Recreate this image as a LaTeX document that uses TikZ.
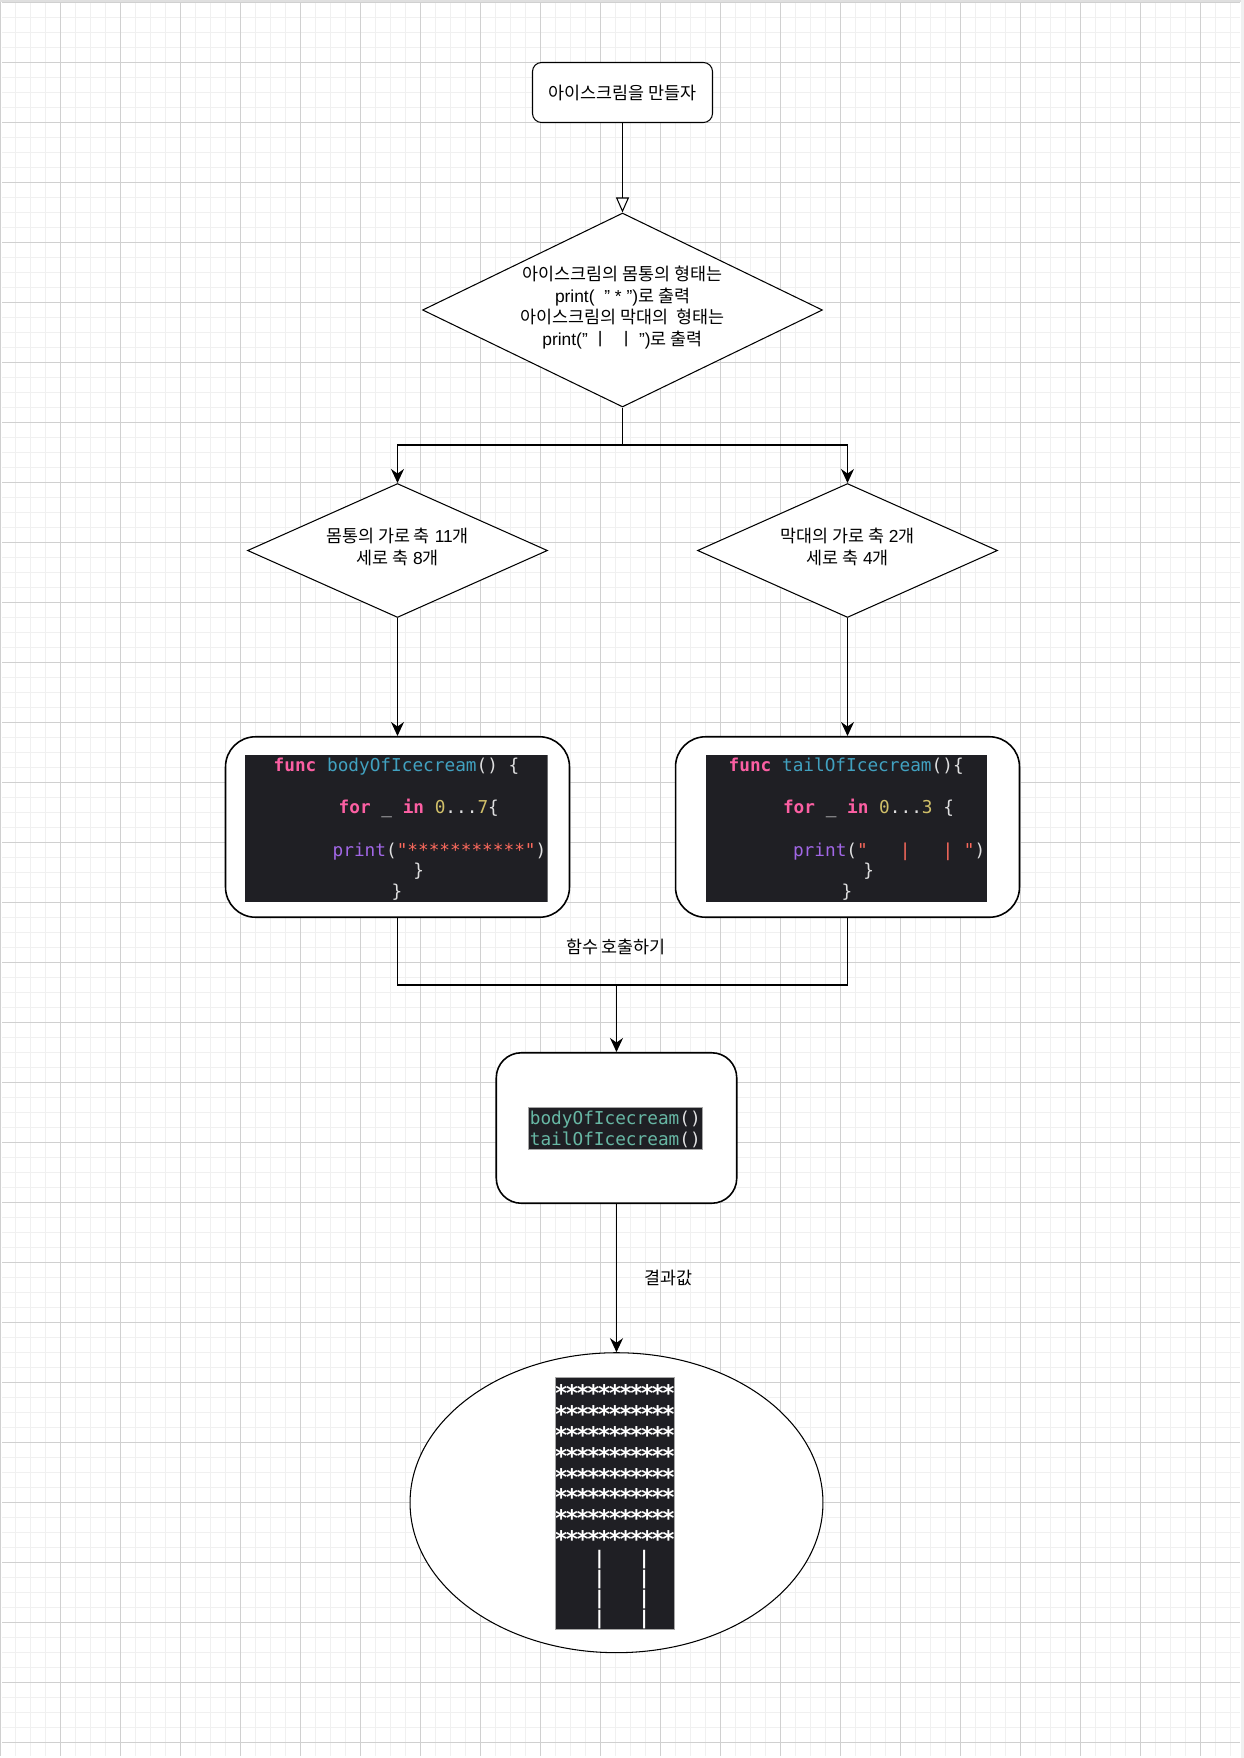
\documentclass[tikz,border=0pt]{standalone}
\usepackage{fontspec}
\setmainfont{Liberation Sans}
\newfontfamily\kr{Noto Sans CJK KR}
\newfontfamily\codefont{DejaVu Sans Mono}
\usepackage{tikz}
\usetikzlibrary{shapes.geometric}
\usetikzlibrary{arrows.meta}

\definecolor{gridMinor}{HTML}{F0F0F0}
\definecolor{gridMajor}{HTML}{D0D0D0}
\definecolor{codeBg}{HTML}{1F1F24}
\definecolor{kwPink}{HTML}{FC5FA3}
\definecolor{declBlue}{HTML}{41A1C0}
\definecolor{plainText}{HTML}{DFDFE0}
\definecolor{numYellow}{HTML}{D0BF69}
\definecolor{strRed}{HTML}{FC6A5D}
\definecolor{fnPurple}{HTML}{A167E6}
\definecolor{callTeal}{HTML}{67B7A4}

\newcommand{\swKey}[1]{\textcolor{kwPink}{\bfseries #1}}
\newcommand{\swDecl}[1]{\textcolor{declBlue}{#1}}
\newcommand{\swNum}[1]{\textcolor{numYellow}{#1}}
\newcommand{\swStr}[1]{\textcolor{strRed}{#1}}
\newcommand{\swFunc}[1]{\textcolor{fnPurple}{#1}}
\newcommand{\swCall}[1]{\textcolor{callTeal}{#1}}

\begin{document}
\begin{tikzpicture}[x=0.02cm, y=-0.02cm,
    minorGrid/.style={draw=gridMinor, line width=0.85pt},
    majorGrid/.style={draw=gridMajor, line width=0.4pt},
    korean/.style={font=\fontsize{9.9pt}{12.4pt}\selectfont, align=center},
    terminal/.style={draw, fill=white, line width=0.6pt, rounded corners=0.18cm, minimum width=3.6cm, minimum height=1.2cm, korean},
    decision/.style={draw, fill=white, diamond, line width=0.6pt, inner sep=0pt},
    codebox/.style={draw, fill=white, rectangle, line width=0.9pt, inner sep=0pt},
    line/.style={line width=0.6pt},
    flow/.style={line width=0.6pt, -{Stealth[length=0.28cm, width=0.26cm]}},
    openflow/.style={line width=0.6pt, -{Triangle[open, fill=white, length=0.3cm, width=0.26cm]}},
    codeLine/.style={anchor=base west, inner sep=0pt, text=plainText, font=\codefont\fontsize{10.1pt}{12pt}\selectfont},
    starChar/.style={anchor=base, inner sep=0pt, text=white, font=\codefont\bfseries\fontsize{13pt}{13pt}\selectfont},
    barLine/.style={anchor=base west, inner sep=0pt, text=white, font=\codefont\bfseries\fontsize{10.6pt}{12pt}\selectfont}]

  \useasboundingbox (0,0) rectangle (1244,1758);
  \fill[white] (0,0) rectangle (1244,1758);
  % grid paper
  \foreach \gx in {15.7,30.7,...,1240} \draw[minorGrid] (\gx,2) -- (\gx,1756);
  \foreach \gy in {17.3,32.3,...,1756} \draw[minorGrid] (2,\gy) -- (1240,\gy);
  \foreach \gx in {0.7,60.7,...,1240} \draw[majorGrid] (\gx,2) -- (\gx,1756);
  \foreach \gy in {2.3,62.3,...,1756} \draw[majorGrid] (2,\gy) -- (1240,\gy);
  \fill[gray!25] (0,0) rectangle (1244,2);
  \fill[gray!12] (1241,0) rectangle (1244,1758);

  % start and first rule
  \node[terminal] (start) at (622.5,92.5) {\kr 아이스크림을 만들자};
  \node[decision, minimum width=8cm, minimum height=3.88cm] (shape) at (622.5,310) {};
  \node[korean] (shapeText) at (622.5,307.5) {{\kr 아이스크림의 몸통의 형태는}\\
    print(~~"~*~"){\kr 로 출력}\\
    {\kr 아이스크림의 막대의~~형태는}\\
    print("~{\kr ㅣ}~~{\kr ㅣ}~"){\kr 로 출력}};

  % body / tail sizes
  \node[decision, minimum width=6cm, minimum height=2.68cm] (bodyRule) at (397.5,550.5) {};
  \node[korean] (bodyRuleText) at (397.5,547) {{\kr 몸통의 가로 축} 11{\kr 개}\\{\kr 세로 축} 8{\kr 개}};
  \node[decision, minimum width=6cm, minimum height=2.68cm] (tailRule) at (847.5,550.5) {};
  \node[korean] (tailRuleText) at (847.5,547) {{\kr 막대의 가로 축} 2{\kr 개}\\{\kr 세로 축} 4{\kr 개}};

  % code boxes
  \node[codebox, rounded corners=0.6cm, minimum width=6.88cm, minimum height=3.61cm] (bodyCode) at (397.5,827) {};
  \node[codebox, rounded corners=0.6cm, minimum width=6.88cm, minimum height=3.61cm] (tailCode) at (847.5,827) {};

  \begin{scope}
    \clip (245,755) rectangle (547.7,901.7);
    \fill[codeBg] (245,755) rectangle (547.7,901.7);
    \node[codeLine] (bodyL1) at (273.3,771) {\swKey{func} \swDecl{bodyOfIcecream}() \{};
    \node[codeLine] (bodyL2) at (338.3,813.7) {\swKey{for} \_ \swKey{in} \swNum{0}...\swNum{7}\{};
    \node[codeLine] (bodyL3) at (332.3,856) {\swFunc{print}(\swStr{"***********"})};
    \node[codeLine] (bodyL4) at (413,876) {\}};
    \node[codeLine] (bodyL5) at (391.3,897.7) {\}};
  \end{scope}

  \begin{scope}
    \clip (705.7,755) rectangle (987.3,901.7);
    \fill[codeBg] (705.7,755) rectangle (987.3,901.7);
    \node[codeLine] (tailL1) at (728.3,771) {\swKey{func} \swDecl{tailOfIcecream}()\{};
    \node[codeLine] (tailL2) at (782.7,813.7) {\swKey{for} \_ \swKey{in} \swNum{0}...\swNum{3} \{};
    \node[codeLine] (tailL3) at (792.7,856) {\swFunc{print}(\swStr{"~~~|~~~|~"})};
    \node[codeLine] (tailL4) at (863,876) {\}};
    \node[codeLine] (tailL5) at (841.3,897.7) {\}};
  \end{scope}

  % call box
  \node[codebox, rounded corners=0.5cm, minimum width=4.81cm, minimum height=3.01cm] (callBox) at (616.5,1128) {};
  \filldraw[fill=codeBg, draw=gray!70, line width=0.3pt] (528.3,1107.3) rectangle (702.3,1149.3);
  \node[codeLine, anchor=base] (callL1) at (615.3,1124.3) {\swCall{bodyOfIcecream}()};
  \node[codeLine, anchor=base] (callL2) at (615.3,1145.3) {\swCall{tailOfIcecream}()};

  % result
  \node[draw, fill=white, ellipse, line width=0.6pt, minimum width=8.26cm, minimum height=6cm, inner sep=0pt] (result) at (616.5,1502.7) {};
  \begin{scope}
    \clip (555.3,1377.7) rectangle (674,1629.3);
    \fill[codeBg] (555.3,1377.7) rectangle (674,1629.3);
    \foreach \r in {1,...,8}
      \foreach \c in {1,...,11}
        \node[starChar] (star\r-\c) at ({556+10.72*(\c-0.5)},{1389.3+20.8*(\r-1)+12.5}) {*};
    \foreach \r in {1,...,4}
      \node[barLine] (bar\r) at (559.8,{1564+20.3*(\r-1)}) {~~~|~~~|~};
  \end{scope}
  \draw[gray!70, line width=0.3pt] (555.3,1377.7) rectangle (674,1629.3);

  % connectors
  \coordinate (split) at (622.5,445);
  \coordinate (join) at (616.5,985);
  \draw[openflow] (start.south) -- (shape.north);
  \draw[line] (shape.south) -- (split);
  \draw[flow] (split) -| (bodyRule.north);
  \draw[flow] (split) -| (tailRule.north);
  \draw[flow] (bodyRule.south) -- (bodyCode.north);
  \draw[flow] (tailRule.south) -- (tailCode.north);
  \draw[line] (bodyCode.south) |- (join) -| (tailCode.south);
  \draw[flow] (join) -- (callBox.north);
  \draw[flow] (callBox.south) -- (result.north);
  \node[korean] (callLabel) at (616,947) {\kr 함수 호출하기};
  \node[korean] (resultLabel) at (668,1278) {\kr 결과값};
\end{tikzpicture}
\end{document}
